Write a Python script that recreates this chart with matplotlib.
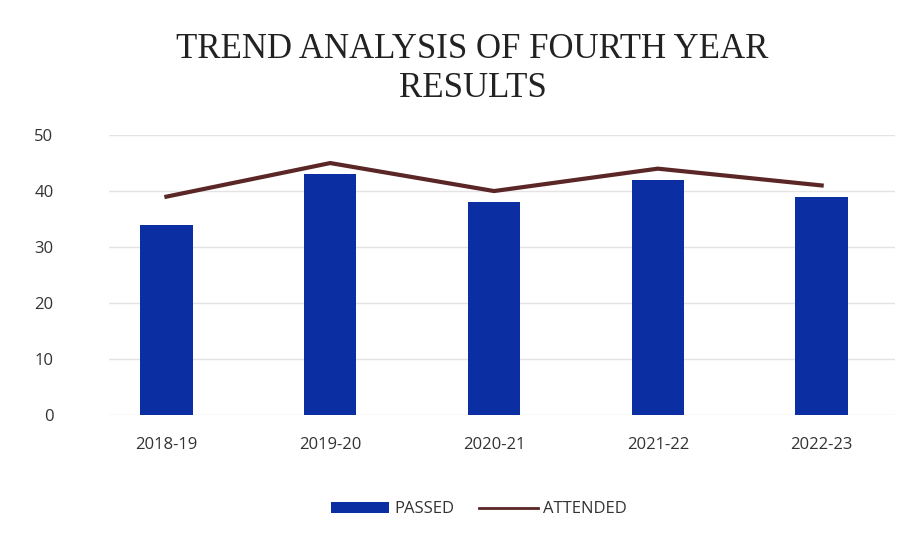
import matplotlib
matplotlib.use('Agg')
import matplotlib.pyplot as plt
import numpy as np

years = ['2018-19', '2019-20', '2020-21', '2021-22', '2022-23']
passed = [34, 43, 38, 42, 39]
attended = [39, 45, 40, 44, 41]

bar_color = '#0b2ea3'
line_color = '#5b2626'

fig = plt.figure(figsize=(9.09, 5.49), dpi=100)
ax = fig.add_axes([0.12, 0.244, 0.865, 0.51])

x = np.arange(len(years))
bars = ax.bar(x, passed, width=0.32, color=bar_color, label='PASSED', zorder=2)
line, = ax.plot(x, attended, color=line_color, linewidth=3, label='ATTENDED', zorder=3)

ax.set_ylim(0, 50)
ax.set_xlim(-0.35, 4.45)
ax.set_yticks(range(0, 51, 10))
ax.set_xticks(x)
ax.set_xticklabels(years)
ax.yaxis.grid(True, color='#e3e3e3', linewidth=1)
ax.set_axisbelow(True)
for s in ax.spines.values():
    s.set_visible(False)
ax.tick_params(length=0, labelsize=12, labelcolor='#333333', pad=16)
ax.tick_params(axis='y', pad=40)
for t in ax.get_xticklabels() + ax.get_yticklabels():
    t.set_family('Open Sans')

fig.text(0.52, 0.875, 'TREND ANALYSIS OF FOURTH YEAR\nRESULTS', ha='center', va='center',
         fontsize=25, family='Liberation Serif', color='#222222', linespacing=1.25)

leg = ax.legend([bars, line], ['PASSED', 'ATTENDED'], loc='upper center', bbox_to_anchor=(0.47, -0.255),
                ncol=2, frameon=False, prop={'family': 'Open Sans', 'size': 12}, handlelength=3.5,
                columnspacing=1.5, handletextpad=0.3, labelcolor='#333333')
leg.get_lines()[0].set_linewidth(2)

fig.savefig('out.png')
